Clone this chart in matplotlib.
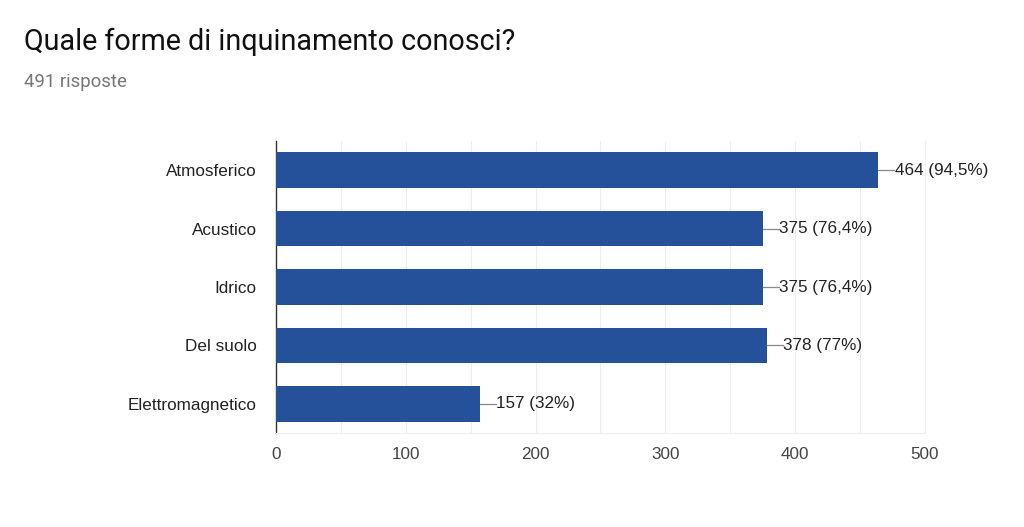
import matplotlib
matplotlib.use("Agg")
import matplotlib.pyplot as plt
from matplotlib.ticker import MultipleLocator

title = "Quale forme di inquinamento conosci?"
subtitle = "491 risposte"
categories = ["Atmosferico", "Acustico", "Idrico", "Del suolo", "Elettromagnetico"]
counts = [464, 375, 375, 378, 157]
labels = ["464 (94,5%)", "375 (76,4%)", "375 (76,4%)", "378 (77%)", "157 (32%)"]

bar_color = "#25519a"
grid_color = "#ededed"

fig = plt.figure(figsize=(10.24, 5.27), dpi=100)
ax = fig.add_axes([0.2695, 0.1784, 0.6338, 0.554])

y = list(range(len(categories)))
ax.barh(y, counts, height=0.61, color=bar_color, zorder=3)
ax.set_ylim(len(categories) - 0.5, -0.5)
ax.set_xlim(0, 500)

ax.xaxis.set_major_locator(MultipleLocator(100))
ax.xaxis.set_minor_locator(MultipleLocator(50))
ax.grid(axis="x", which="both", color=grid_color, linewidth=0.8, zorder=0)

ax.set_yticks(y)
ax.set_yticklabels(categories, fontsize=12.3, color="#222222", family="Liberation Sans")
for lab in ax.get_xticklabels():
    lab.set_fontsize(12.3)
    lab.set_color("#444444")
    lab.set_family("Liberation Sans")
ax.tick_params(axis="both", which="both", length=0)
ax.tick_params(axis="y", pad=14)
ax.tick_params(axis="x", pad=10)

for side in ["top", "right", "bottom"]:
    ax.spines[side].set_color(grid_color)
ax.spines["top"].set_visible(False)
ax.spines["left"].set_color("#333333")
ax.spines["left"].set_linewidth(1.0)

for yi, v, lab in zip(y, counts, labels):
    ax.plot([v, v + 12.5], [yi, yi], color="#888888", linewidth=0.9, zorder=4)
    ax.text(v + 12.8, yi, lab, va="center", ha="left", fontsize=12.3,
            color="#222222", family="Liberation Sans", zorder=5)

fig.text(24 / 1024, 1 - 42 / 527, title, fontsize=20.7, color="#111111",
         family="Roboto", va="center", ha="left")
fig.text(24 / 1024, 1 - 82 / 527, subtitle, fontsize=13.4, color="#777777",
         family="Roboto", va="center", ha="left")

fig.savefig("out.png", dpi=100)
